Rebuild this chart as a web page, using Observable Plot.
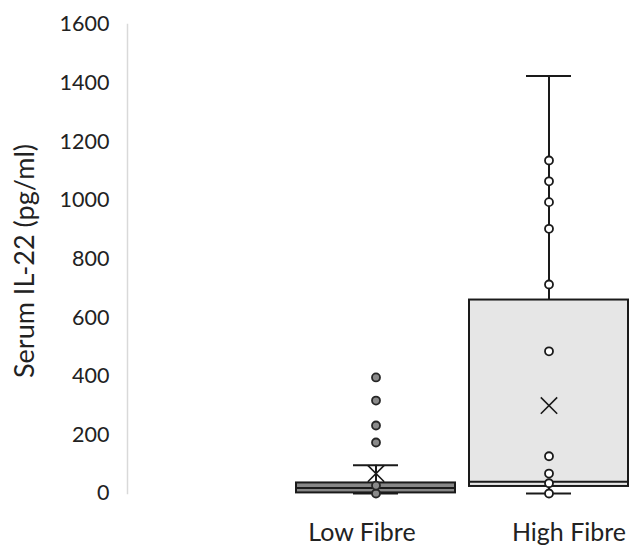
<!DOCTYPE html>
<html>
<head>
<meta charset="utf-8">
<script src="https://cdn.jsdelivr.net/npm/d3@7"></script>
<script src="https://cdn.jsdelivr.net/npm/@observablehq/plot@0.6"></script>
<style>
  html, body { margin: 0; padding: 0; background: #ffffff; }
</style>
</head>
<body>
<div id="chart"></div>
<script>
// ---- data ----
const categories = ["Low Fibre", "High Fibre"];
const q1 = [2, 24];
const median = [19, 40];
const q3 = [36, 660];
const whiskerLow = [0, 0];
const whiskerHigh = [96, 1424];
const mean = [68, 300];
const lowFibrePoints = [0, 27, 174, 232, 317, 396];
const highFibrePoints = [0, 35, 68, 127, 485, 713, 903, 994, 1065, 1136];
const yTicks = [0, 200, 400, 600, 800, 1000, 1200, 1400, 1600];
const yLabel = "Serum IL-22 (pg/ml)";

// ---- tables built from the arrays ----
const boxes = categories.map((c, i) => ({
  group: c, q1: q1[i], median: median[i], q3: q3[i],
  lo: whiskerLow[i], hi: whiskerHigh[i], mean: mean[i]
}));
const lowPts = lowFibrePoints.map(v => ({group: categories[0], value: v}));
const highPts = highFibrePoints.map(v => ({group: categories[1], value: v}));

const ink = "#1a1a1a";
const textColor = "#222222";

const chart = Plot.plot({
  width: 631,
  height: 545,
  marginLeft: 127,
  marginRight: 0,
  marginTop: 24,
  marginBottom: 52,
  style: {fontFamily: "Lato, 'Open Sans', sans-serif", background: "#ffffff"},
  x: {domain: categories, range: [295, 629], paddingInner: 0.08, paddingOuter: 0},
  y: {domain: [0, 1600]},
  color: {domain: categories, range: ["#878787", "#e6e6e6"]},
  marks: [
    Plot.frame({anchor: "left", stroke: "#d9d9d9", strokeWidth: 1.5}),
    Plot.axisY({ticks: yTicks, tickFormat: d => String(d), tickSize: 0, tickPadding: 18, fontSize: 21.5, fill: textColor, label: null}),
    Plot.axisX({ticks: [categories[0]], tickSize: 0, tickPadding: 30, fontSize: 25, fill: textColor, label: null, dx: -14}),
    Plot.axisX({ticks: [categories[1]], tickSize: 0, tickPadding: 30, fontSize: 25, fill: textColor, label: null, dx: 20}),
    Plot.text([yLabel], {text: d => d, frameAnchor: "left", textAnchor: "middle", lineAnchor: "middle", dx: -102, dy: 2, rotate: -90, fontSize: 27, fill: textColor}),
    // whiskers
    Plot.ruleX(boxes, {x: "group", y1: "lo", y2: "hi", stroke: ink, strokeWidth: 2}),
    Plot.tickY(boxes, {x: "group", y: "hi", insetLeft: 57, insetRight: 57, stroke: ink, strokeWidth: 2}),
    Plot.tickY(boxes, {x: "group", y: "lo", insetLeft: 57, insetRight: 57, stroke: ink, strokeWidth: 2}),
    // boxes
    Plot.barY(boxes, {x: "group", y1: "q1", y2: "q3", fill: "group", stroke: ink, strokeWidth: 2}),
    Plot.tickY(boxes, {x: "group", y: "median", stroke: ink, strokeWidth: 2}),
    // points
    Plot.dot(lowPts, {x: "group", y: "value", r: 4, fill: "#8a8a8a", stroke: "#262626", strokeWidth: 1.8}),
    Plot.dot(highPts, {x: "group", y: "value", r: 4, fill: "#ffffff", stroke: ink, strokeWidth: 1.8}),
    // mean markers
    Plot.dot(boxes, {x: "group", y: "mean", symbol: "times", r: 7.5, stroke: ink, strokeWidth: 1.6})
  ]
});
document.getElementById("chart").appendChild(chart);
</script>
</body>
</html>
